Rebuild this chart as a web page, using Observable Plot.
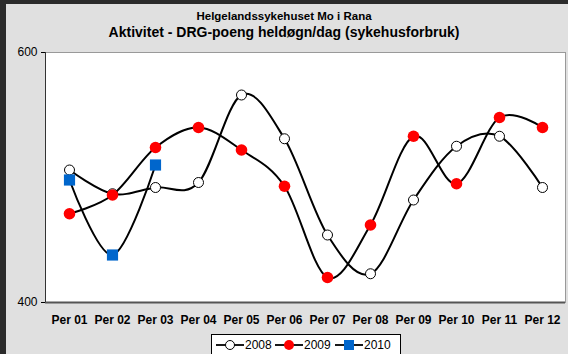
<!DOCTYPE html>
<html>
<head>
<meta charset="utf-8">
<script src="https://cdn.jsdelivr.net/npm/d3@7"></script>
<script src="https://cdn.jsdelivr.net/npm/@observablehq/plot@0.6"></script>
<style>
  html, body { margin: 0; padding: 0; }
  body { width: 568px; height: 354px; background: #2b2b2b; position: relative; overflow: hidden; font-family: "Liberation Sans", Arial, sans-serif; }
  #panel { position: absolute; left: 6px; top: 4px; width: 562px; height: 350px; background: #e0e0e0; }
  .t1 { position: absolute; left: 0; width: 568px; top: 10px; text-align: center; font-weight: bold; font-size: 11.5px; color: #000; }
  .t2 { position: absolute; left: 0; width: 568px; top: 24px; text-align: center; font-weight: bold; font-size: 14px; color: #000; }
  #chart { position: absolute; left: 0; top: 44px; }
  #legend { position: absolute; left: 211px; top: 334px; width: 188px; height: 24px; background: #fff; border: 1px solid #000; font-size: 12px; }
  #legend .item { position: absolute; top: 2px; display: flex; align-items: center; }
  #legend .item span { margin-left: 1px; }
</style>
</head>
<body>
<div id="panel"></div>
<div class="t1">Helgelandssykehuset Mo i Rana</div>
<div class="t2">Aktivitet - DRG-poeng heldøgn/dag (sykehusforbruk)</div>
<div id="chart"></div>
<div id="legend"></div>
<script>
const periods = ["Per 01","Per 02","Per 03","Per 04","Per 05","Per 06","Per 07","Per 08","Per 09","Per 10","Per 11","Per 12"];
const series = ["2008","2009","2010"];
const v2008 = [506, 487, 492, 496, 566, 531, 454, 423, 482, 525, 533, 492];
const v2009 = [471, 486, 524, 540, 522, 493, 420, 462, 533, 495, 548, 540];
const v2010 = [498, 438, 510];
const yTicks = [400, 600];

const mk = (vals) => vals.map((v, i) => ({period: periods[i], value: v}));
const d2008 = mk(v2008), d2009 = mk(v2009), d2010 = mk(v2010);

const leftLine = (index, scales, values, dims) => {
  const x = dims.marginLeft + 0.5;
  return d3.create("svg:line")
    .attr("x1", x).attr("x2", x)
    .attr("y1", dims.marginTop).attr("y2", dims.height - dims.marginBottom)
    .attr("stroke", "#333").attr("stroke-width", 1).node();
};

const lineOpts = {x: "period", y: "value", curve: "cardinal", stroke: "black", strokeWidth: 2};

const chart = Plot.plot({
  width: 568,
  height: 290,
  marginTop: 8,
  marginBottom: 32,
  marginLeft: 45,
  marginRight: 3,
  style: {background: "transparent", fontFamily: "Liberation Sans, Arial, sans-serif", color: "#000"},
  x: {type: "point", domain: periods, padding: 0.5},
  y: {domain: [400, 600]},
  marks: [
    Plot.frame({fill: "white", stroke: "#999"}),
    Plot.ruleY([400], {stroke: "#555", strokeWidth: 2}),
    leftLine,
    Plot.line(d2008, lineOpts),
    Plot.dot(d2008, {x: "period", y: "value", r: 5, fill: "white", stroke: "black", strokeWidth: 1}),
    Plot.line(d2009, lineOpts),
    Plot.dot(d2009, {x: "period", y: "value", r: 5.8, fill: "#ff0000", stroke: "none"}),
    Plot.line(d2010, lineOpts),
    Plot.dot(d2010, {x: "period", y: "value", symbol: "square", r: 6.3, fill: "#0066cc", stroke: "none"}),
    Plot.axisY({ticks: yTicks, tickSize: 4, tickPadding: 4, fontSize: 12, label: null, tickFormat: d3.format("d")}),
    Plot.axisX({tickSize: 0, tickPadding: 13, fontSize: 12, fontWeight: "bold", label: null})
  ]
});
document.getElementById("chart").appendChild(chart);

// legend
const legend = document.getElementById("legend");
const legendX = [4, 63, 123];
const markers = {
  "2008": '<circle cx="14" cy="8" r="4.5" fill="white" stroke="black" stroke-width="1"/>',
  "2009": '<circle cx="14" cy="8" r="5" fill="#ff0000"/>',
  "2010": '<rect x="9" y="3" width="10" height="10" fill="#0066cc"/>'
};
series.forEach((s, i) => {
  const div = document.createElement("div");
  div.className = "item";
  div.style.left = legendX[i] + "px";
  div.innerHTML = '<svg width="28" height="16"><line x1="0" x2="28" y1="8" y2="8" stroke="black" stroke-width="1.8"/>' + markers[s] + '</svg><span>' + s + '</span>';
  legend.appendChild(div);
});
</script>
</body>
</html>
